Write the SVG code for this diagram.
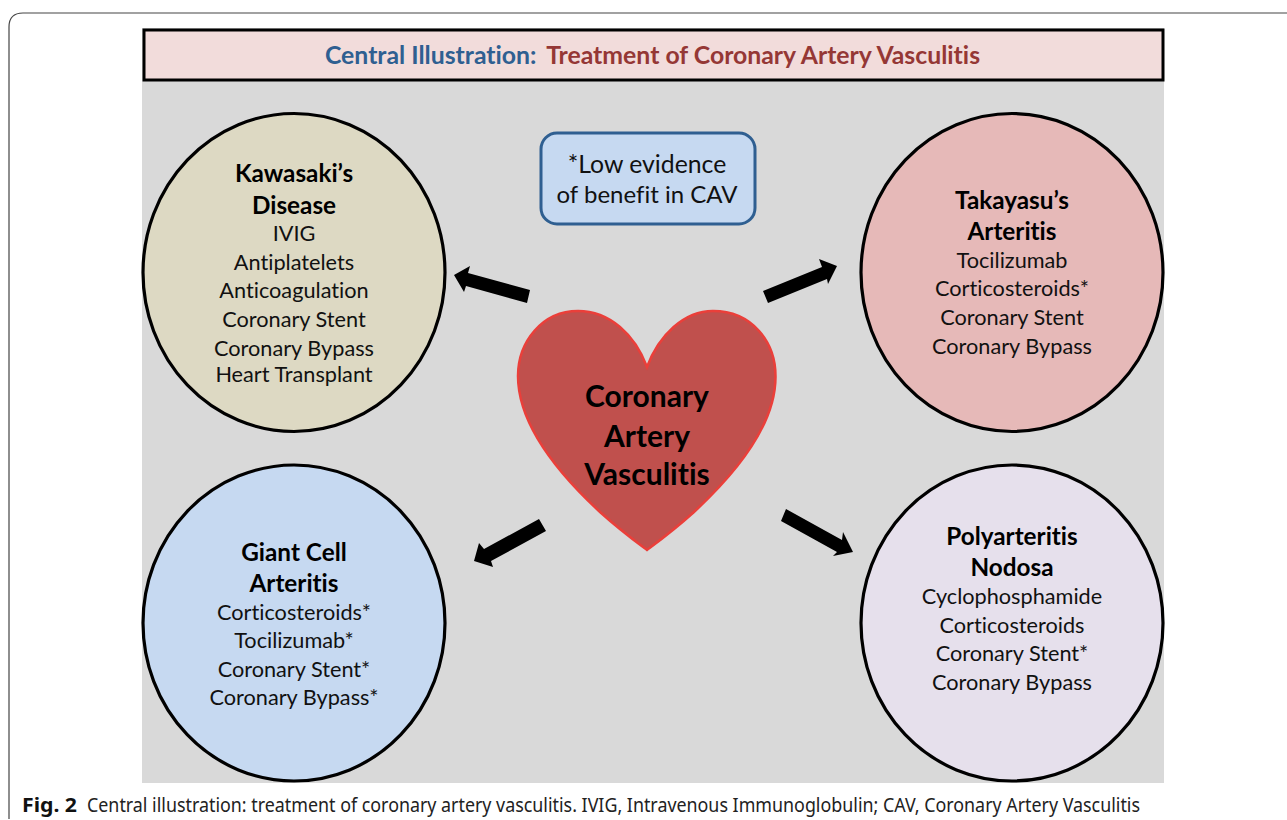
<svg xmlns="http://www.w3.org/2000/svg" width="1287" height="820" viewBox="0 0 1287 820">
<style>
text{font-family:"Lato","Open Sans","Liberation Sans",sans-serif;text-anchor:middle;fill:#111;font-variant-ligatures:none}
.h{font-size:24.300px;font-weight:700;fill:#000}
.b{font-size:21.700px}
.c{stroke:#000;stroke-width:3.200}
.a{fill:#000}
</style>
<rect width="1287" height="820" fill="#fff"/>
<path d="M1287 13H23Q9 13 9 27V819" fill="none" stroke="#444" stroke-width="1.2"/>
<rect x="142" y="28" width="1022" height="755" fill="#d9d9d9"/>
<g id="title">
<rect x="144" y="30" width="1019" height="50" fill="#f2dcdb" stroke="#000" stroke-width="3"/>
<text x="652.500" y="64" font-size="24.800" font-weight="700" style="fill:#2f5f91"><tspan>Central Illustration:</tspan><tspan dx="11" style="fill:#953735">Treatment of Coronary Artery Vasculitis</tspan></text>
</g>
<g id="note">
<rect x="541" y="133" width="214" height="91" rx="16" fill="#c6d9f1" stroke="#2f5f91" stroke-width="3"/>
<text x="647" y="173" font-size="24.800">*Low evidence</text>
<text x="647" y="203" font-size="24">of benefit in CAV</text>
</g>
<g id="kawasaki">
<ellipse class="c" cx="294" cy="272.500" rx="151" ry="159" fill="#ddd9c3"/>
<text class="h" x="294" y="182">Kawasaki’s</text>
<text class="h" x="294" y="214">Disease</text>
<text class="b" x="294" y="241">IVIG</text>
<text class="b" x="294" y="270">Antiplatelets</text>
<text class="b" x="294" y="298">Anticoagulation</text>
<text class="b" x="294" y="327">Coronary Stent</text>
<text class="b" x="294" y="356">Coronary Bypass</text>
<text class="b" x="294" y="382">Heart Transplant</text>
</g>
<g id="takayasu">
<ellipse class="c" cx="1012" cy="272.500" rx="151" ry="159" fill="#e6b9b8"/>
<text class="h" x="1012" y="209">Takayasu’s</text>
<text class="h" x="1012" y="240">Arteritis</text>
<text class="b" x="1012" y="268">Tocilizumab</text>
<text class="b" x="1012" y="296">Corticosteroids*</text>
<text class="b" x="1012" y="325">Coronary Stent</text>
<text class="b" x="1012" y="354">Coronary Bypass</text>
</g>
<g id="giant-cell">
<ellipse class="c" cx="294" cy="623" rx="151" ry="158" fill="#c6d9f1"/>
<text class="h" x="294" y="561">Giant Cell</text>
<text class="h" x="294" y="592">Arteritis</text>
<text class="b" x="294" y="620">Corticosteroids*</text>
<text class="b" x="294" y="648">Tocilizumab*</text>
<text class="b" x="294" y="677">Coronary Stent*</text>
<text class="b" x="294" y="705">Coronary Bypass*</text>
</g>
<g id="polyarteritis">
<ellipse class="c" cx="1012" cy="623" rx="151" ry="158" fill="#e6e0ec"/>
<text class="h" x="1012" y="545">Polyarteritis</text>
<text class="h" x="1012" y="576">Nodosa</text>
<text class="b" x="1012" y="604">Cyclophosphamide</text>
<text class="b" x="1012" y="633">Corticosteroids</text>
<text class="b" x="1012" y="661">Coronary Stent*</text>
<text class="b" x="1012" y="690">Coronary Bypass</text>
</g>
<g id="heart">
<path d="M647 367C635 335 610 311 578 311C542 311 518 342 518 376C518 425 560 475 600 512C620 530 635 541 647 550C659 541 674 530 694 512C734 475 776 425 775.500 376C775.500 342 752 311 713 311C684 311 659 335 647 367Z" fill="#c0504d" stroke="#ea3f3a" stroke-width="2.500"/>
<text class="h" x="647" y="407" style="font-size:30px">Coronary</text>
<text class="h" x="647" y="447" style="font-size:30px">Artery</text>
<text class="h" x="647" y="485" style="font-size:30px">Vasculitis</text>
</g>
<g id="connectors">
<polygon class="a" points="530,290 527,303 466,286 464,292 454,275 470,266 468,273"/>
<polygon class="a" points="763,291 768,303 827,279 828,284 837,266 819,259 822,267"/>
<polygon class="a" points="539,519 546,531 491,561 493,567 474,561 479,543 484,549"/>
<polygon class="a" points="786,509 781,521 837,552 833,556 853,552 843,532 842,540"/>
</g>
<g id="caption">
<text x="22" y="812" font-size="19" font-weight="700" style="text-anchor:start;font-family:'Noto Sans','Open Sans',sans-serif;fill:#111" textLength="55" lengthAdjust="spacingAndGlyphs">Fig. 2</text>
<text x="87" y="812" font-size="19" style="text-anchor:start;font-family:'Noto Sans','Open Sans',sans-serif;fill:#222" textLength="1053" lengthAdjust="spacingAndGlyphs">Central illustration: treatment of coronary artery vasculitis. IVIG, Intravenous Immunoglobulin; CAV, Coronary Artery Vasculitis</text>
</g>
</svg>
